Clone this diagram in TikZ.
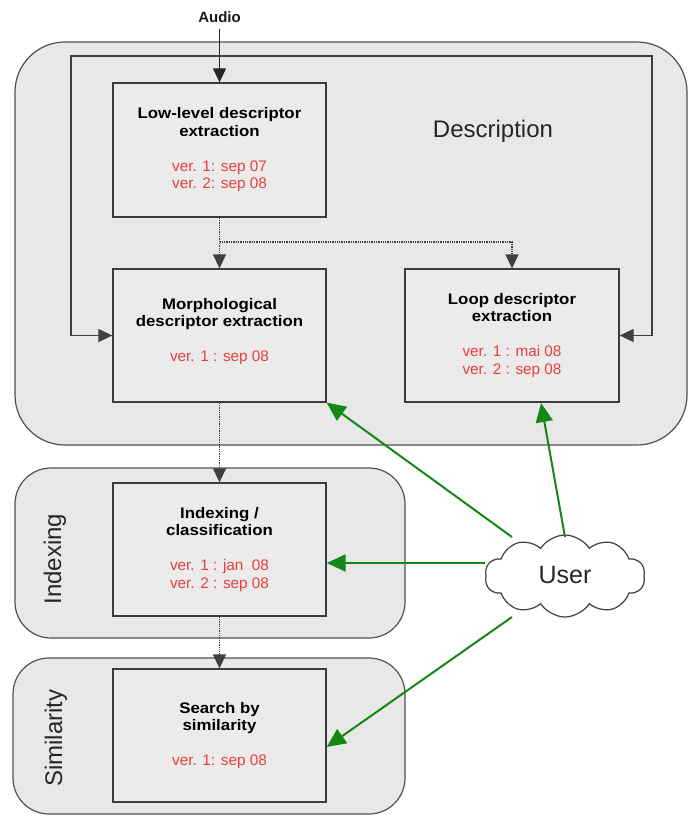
\documentclass[tikz,border=0pt]{standalone}
\usepackage{fontspec}
\setmainfont{Liberation Sans}
\newfontfamily\titlefam[FakeStretch=1.1]{Liberation Sans}
\usetikzlibrary{arrows.meta,shapes.symbols,calc}
\definecolor{panelfill}{HTML}{E8E8E8}
\definecolor{boxfill}{HTML}{EBEBEB}
\definecolor{panelline}{HTML}{505050}
\definecolor{boxline}{HTML}{3C3C3C}
\definecolor{vred}{RGB}{232,62,62}
\definecolor{ugreen}{RGB}{20,135,20}
\newcommand{\ttl}[1]{{\titlefam\bfseries #1}}
\newcommand{\vr}[1]{{\color{vred}#1}}
\begin{document}
\begin{tikzpicture}[x=1pt,y=-1pt,
  panel/.style={draw=panelline,fill=panelfill,line width=1.2pt},
  stepbox/.style={draw=boxline,fill=boxfill,line width=1.3pt,minimum width=213pt,minimum height=134pt,
     align=center,inner sep=0pt,font=\fontsize{15.3}{17.5}\selectfont},
  bigtext/.style={font=\fontsize{24}{28}\selectfont,text=black!85},
  arr/.style={draw=black!85,line width=1.2pt,-{Triangle[length=14pt,width=13pt]}},
  fb/.style={draw=black!75,line width=1.3pt},
  dots/.style={draw=black!75,line width=1.3pt,densely dotted,-{Triangle[length=14pt,width=13pt]}},
  garr/.style={draw=ugreen,line width=2pt,-{Triangle[length=19pt,width=17pt]}},
]
\useasboundingbox (0,0) rectangle (689,817);
\fill[white] (0,0) rectangle (689,817);
% panels
\draw[panel,rounded corners=50pt] (15,42) rectangle (687,445);
\draw[panel,rounded corners=36pt] (15,468) rectangle (405,638);
\draw[panel,rounded corners=36pt] (13,658) rectangle (405,814);
% labels
\node[bigtext] (desclbl) at (493,131) {Description};
\node[bigtext,rotate=90] (idxlbl) at (55,559) {Indexing};
\node[bigtext,rotate=90] (simlbl) at (56,738) {Similarity};
% boxes
\node[stepbox] (low) at (219.5,150) {\ttl{Low-level descriptor}\\\ttl{extraction}\\[17.5pt]\vr{ver. 1: sep 07}\\\vr{ver. 2: sep 08}};
\node[stepbox,minimum height=133pt] (morph) at (219.5,335.5) {\ttl{Morphological}\\\ttl{descriptor extraction}\\[17.5pt]\vr{ver. 1 : sep 08}\\[-6pt]};
\node[stepbox,minimum width=214pt,minimum height=133pt] (loop) at (512,335.5) {\ttl{Loop descriptor}\\\ttl{extraction}\\[17.5pt]\vr{ver. 1 : mai 08}\\\vr{ver. 2 : sep 08}};
\node[stepbox,minimum height=133pt] (idx) at (219.5,549.5) {\ttl{Indexing /}\\\ttl{classification}\\[17.5pt]\vr{ver. 1 : jan\ \ 08}\\\vr{ver. 2 : sep 08}};
\node[stepbox,minimum height=133pt] (search) at (219.5,735.5) {\ttl{Search by}\\\ttl{similarity}\\[17.5pt]\vr{ver. 1: sep 08}};
% audio
\node[font=\bfseries\fontsize{15}{17}\selectfont,text=black!90] (audio) at (219.5,17) {Audio};
\coordinate (audioend) at (219.5,29);
\draw[arr] (audioend) -- (low.north);
% feedback loop
\coordinate (fbl) at (71,56);
\coordinate (fbr) at (652,56);
\draw[fb,{Triangle[length=14pt,width=13pt]}-{Triangle[length=14pt,width=13pt]}] (morph.west) -| (fbl) -- (fbr) |- (loop.east);
% dotted flows
\coordinate (br) at (219.5,242);
\draw[dots] (low.south) -- (morph.north);
\draw[dots] (br) -| (loop.north);
\draw[dots] (morph.south) -- (idx.north);
\draw[dots] (idx.south) -- (search.north);
% user cloud
\node[cloud,cloud puffs=10,cloud puff arc=115,aspect=2.1,draw=black!75,fill=white,line width=1.2pt,
      minimum width=160pt,minimum height=82pt,inner sep=0pt] (user) at (565,576) {};
\node[font=\fontsize{25}{28}\selectfont,text=black!85] (userlbl) at (565,575) {User};
\coordinate (u1) at (512,537);
\coordinate (u2) at (565,537);
\coordinate (u3) at (485,563);
\coordinate (u4) at (512,617);
\coordinate (t2) at (541,403);
\draw[garr] (u1) -- (morph.south east);
\draw[garr] (u2) -- (t2);
\draw[garr] (u3) -- ($(idx.east)+(0,13.5)$);
\draw[garr] (u4) -- ($(search.east)+(0,11.5)$);
\end{tikzpicture}
\end{document}
